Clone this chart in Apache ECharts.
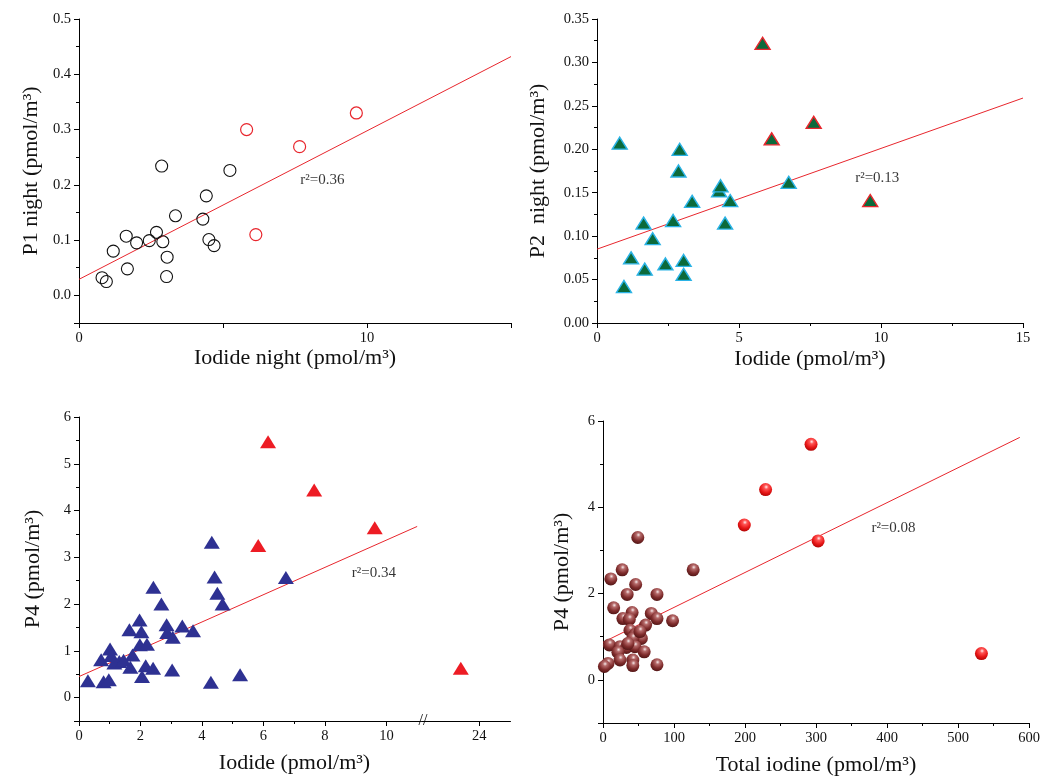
<!DOCTYPE html>
<html><head><meta charset="utf-8">
<script src="https://cdn.jsdelivr.net/npm/echarts@6/dist/echarts.min.js"></script>
<style>html,body{margin:0;padding:0;background:#fff}#c{width:1049px;height:777px}</style>
</head><body><div id="c"></div>
<script>
// ---------- Panel 1: P1 night vs Iodide night ----------
const p1BlackX = [0.80,0.95,1.19,1.64,1.68,2.00,2.44,2.69,2.87,2.91,3.06,3.04,3.35,4.30,4.42,4.51,4.69,5.24];
const p1BlackY = [0.032,0.025,0.080,0.107,0.048,0.095,0.099,0.114,0.234,0.097,0.069,0.034,0.144,0.138,0.180,0.101,0.090,0.226];
const p1RedX = [5.82,6.14,7.66,9.63];
const p1RedY = [0.300,0.110,0.269,0.330];
const p1FitX = [0, 15];
const p1FitY = [0.029, 0.432];
const p1XTicks = [0, 10];

// ---------- Panel 2: P2 night vs Iodide ----------
const p2X = [0.80,0.95,1.20,1.64,1.68,1.96,2.41,2.68,2.87,2.91,3.05,3.05,3.35,4.30,4.35,4.51,4.69,6.75];
const p2Y = [0.207,0.042,0.075,0.115,0.062,0.097,0.068,0.118,0.175,0.200,0.072,0.056,0.140,0.152,0.158,0.115,0.141,0.162];
const p2RedX = [5.83,6.15,7.63,9.62];
const p2RedY = [0.322,0.212,0.231,0.141];
const p2FitX = [0, 15];
const p2FitY = [0.085, 0.259];

// ---------- Panel 3: P4 vs Iodide (broken axis) ----------
const p3X = [4.32,4.41,4.50,4.67,6.73,2.42,2.68,1.97,1.64,2.03,2.85,3.36,3.71,2.87,3.05,1.98,2.21,1.74,1.01,0.72,1.31,1.15,1.45,1.67,2.17,2.41,2.05,3.03,0.29,0.80,0.97,4.29,5.24,1.05];
const p3Y = [3.32,2.58,2.23,2.00,2.57,2.36,2.00,1.66,1.45,1.41,1.56,1.53,1.43,1.39,1.29,1.13,1.14,0.91,1.04,0.81,0.77,0.74,0.80,0.65,0.68,0.63,0.45,0.59,0.36,0.34,0.38,0.33,0.49,0.90];
const p3RedX = [5.83,6.15,7.65,9.62,23.4];
const p3RedY = [3.25,5.47,4.44,3.63,0.63];
const p3FitX = [0, 11.0];
const p3FitY = [0.45, 3.66];
const p3XTicks = [0,2,4,6,8,10,24];
const p3XBreak = [11.1, 22.1];

// ---------- Panel 4: P4 vs Total iodine ----------
const p4X = [49,127,27,11,46,34,76,15,41,68,28,37,76,98,60,38,45,54,42,9,24,33,45,58,21,24,42,42,7,2,76,35,52];
const p4Y = [3.30,2.55,2.55,2.34,2.21,1.98,1.98,1.67,1.56,1.54,1.42,1.40,1.42,1.37,1.27,1.15,1.05,0.96,0.96,0.81,0.77,0.75,0.77,0.65,0.64,0.46,0.46,0.33,0.38,0.31,0.35,0.84,1.12];
const p4RedX = [199,229,293,303,533];
const p4RedY = [3.59,4.41,5.46,3.22,0.61];
const p4FitX = [0, 587];
const p4FitY = [0.87, 5.62];

const FONT = '"Liberation Serif","Times New Roman",serif';
const RED = '#e8262d';
function pairs(xs, ys){ return xs.map((x,i)=>[x, ys[i]]); }

function axis(gridIndex, o) {
  return {
    type: 'value', gridIndex,
    min: o.min, max: o.max, interval: o.interval, splitNumber: o.splitNumber,
    breaks: o.breaks, breakArea: o.breakArea,
    name: o.name, nameLocation: 'middle', nameGap: o.nameGap,
    nameTextStyle: {color:'#111', fontFamily: FONT, fontSize: 22},
    axisLine: {show:true, onZero:false, lineStyle:{color:'#000', width:1}},
    axisTick: {show:true, inside:false, length:5, customValues: o.custom, lineStyle:{color:'#000', width:1}},
    minorTick: {show: o.minor !== false, splitNumber:2, length:3, lineStyle:{color:'#000', width:1}},
    splitLine: {show:false}, minorSplitLine: {show:false},
    axisLabel: {color:'#111', fontFamily: FONT, fontSize: 14.5, margin: 8, formatter: o.fmt,
                customValues: o.custom, hideOverlap: false, showMinLabel: true, showMaxLabel: true}
  };
}

function fitLine(xi, yi, xs, ys){
  return {type:'line', xAxisIndex:xi, yAxisIndex:yi, data: pairs(xs, ys), symbol:'none',
          lineStyle:{color:RED, width:1}, silent:true, z:1};
}
function rLabel(xi, yi, x, y, txt){
  return {type:'scatter', xAxisIndex:xi, yAxisIndex:yi, data:[[x,y]], symbolSize:0,
    itemStyle:{color:'transparent'}, silent:true,
    label:{show:true, position:'right', distance:0, formatter: txt, color:'#000',
           fontFamily: FONT, fontSize: 15}};
}
function sphere(c0, c1, c2, c3){
  return {type:'radial', x:0.55, y:0.3, r:0.75, colorStops:[
    {offset:0, color:c0},{offset:0.22, color:c1},{offset:0.6, color:c2},{offset:1, color:c3}]};
}

const chart = echarts.init(document.getElementById('c'), null, {renderer:'canvas'});
chart.setOption({
  animation: false,
  backgroundColor: '#fff',
  grid: [
    {left:79, top:19, width:432, height:304},
    {left:597, top:19, width:426, height:304},
    {left:79, top:417, width:431, height:304},
    {left:603, top:421, width:426, height:303}
  ],
  xAxis: [
    axis(0, {min:0, max:15, interval:5, minor:false, name:'Iodide night (pmol/m³)', nameGap:20,
             fmt: v => p1XTicks.includes(v) ? String(v) : ''}),
    axis(1, {min:0, max:15, interval:5, name:'Iodide (pmol/m³)', nameGap:25,
             fmt: v => String(v)}),
    axis(2, {min:0, max:25, interval:2, name:'Iodide (pmol/m³)', nameGap:31,
             breaks:[{start:p3XBreak[0], end:p3XBreak[1], gap:0.02}],
             breakArea:{show:false},
             custom: p3XTicks,
             fmt: v => p3XTicks.includes(v) ? String(v) : ''}),
    axis(3, {min:0, max:600, interval:100, name:'Total iodine (pmol/m³)', nameGap:31,
             fmt: v => String(v)})
  ],
  yAxis: [
    axis(0, {min:-0.05, max:0.5, splitNumber:5, name:'P1 night (pmol/m³)', nameGap:37,
             fmt: v => v >= -1e-9 ? v.toFixed(1) : ''}),
    axis(1, {min:0, max:0.35, interval:0.05, name:'P2  night (pmol/m³)', nameGap:48,
             fmt: v => v.toFixed(2)}),
    axis(2, {min:-0.5, max:6, splitNumber:5, name:'P4 (pmol/m³)', nameGap:35,
             fmt: v => v >= 0 ? String(v) : ''}),
    axis(3, {min:-1, max:6, splitNumber:3, name:'P4 (pmol/m³)', nameGap:30,
             fmt: v => v >= 0 ? String(v) : ''})
  ],
  series: [
    fitLine(0,0,p1FitX,p1FitY),
    {type:'scatter', xAxisIndex:0, yAxisIndex:0, data:pairs(p1BlackX,p1BlackY), symbol:'circle', symbolSize:12,
     itemStyle:{color:'rgba(255,255,255,0)', borderColor:'#111', borderWidth:1.1, opacity:1}, z:3},
    {type:'scatter', xAxisIndex:0, yAxisIndex:0, data:pairs(p1RedX,p1RedY), symbol:'circle', symbolSize:12,
     itemStyle:{color:'rgba(255,255,255,0)', borderColor:RED, borderWidth:1.2, opacity:1}, z:3},
    rLabel(0,0,7.68,0.209,'r²=0.36'),

    fitLine(1,1,p2FitX,p2FitY),
    {type:'scatter', xAxisIndex:1, yAxisIndex:1, data:pairs(p2X,p2Y), symbol:'triangle', symbolSize:[15,12],
     itemStyle:{color:'#0b6a3b', borderColor:'#2bb3e6', borderWidth:1.4, opacity:1}, z:3},
    {type:'scatter', xAxisIndex:1, yAxisIndex:1, data:pairs(p2RedX,p2RedY), symbol:'triangle', symbolSize:[15,12],
     itemStyle:{color:'#0b6a3b', borderColor:RED, borderWidth:1.4, opacity:1}, z:3},
    rLabel(1,1,9.09,0.167,'r²=0.13'),

    fitLine(2,2,p3FitX,p3FitY),
    {type:'scatter', xAxisIndex:2, yAxisIndex:2, data:pairs(p3X,p3Y), symbol:'triangle', symbolSize:[16,13],
     itemStyle:{color:'#2e3192', opacity:1}, z:3},
    {type:'scatter', xAxisIndex:2, yAxisIndex:2, data:pairs(p3RedX,p3RedY), symbol:'triangle', symbolSize:[16,13],
     itemStyle:{color:'#ed1c24', opacity:1}, z:3},
    rLabel(2,2,8.87,2.66,'r²=0.34'),

    fitLine(3,3,p4FitX,p4FitY),
    {type:'scatter', xAxisIndex:3, yAxisIndex:3, data:pairs(p4X,p4Y), symbol:'circle', symbolSize:13,
     itemStyle:{color: sphere('#f6eaea','#b56a6a','#7f2c2c','#4a1212'), opacity:1}, z:3},
    {type:'scatter', xAxisIndex:3, yAxisIndex:3, data:pairs(p4RedX,p4RedY), symbol:'circle', symbolSize:13,
     itemStyle:{color: sphere('#fff0f0','#ff5555','#e81818','#a80000'), opacity:1}, z:3},
    rLabel(3,3,378,3.53,'r²=0.08')
  ],
  graphic: [
    {type:'text', x:423, y:721, silent:true,
     style:{text:'//', fill:'#111', font:'16px ' + FONT, align:'center', verticalAlign:'middle'}}
  ]
});
</script>
</body></html>
